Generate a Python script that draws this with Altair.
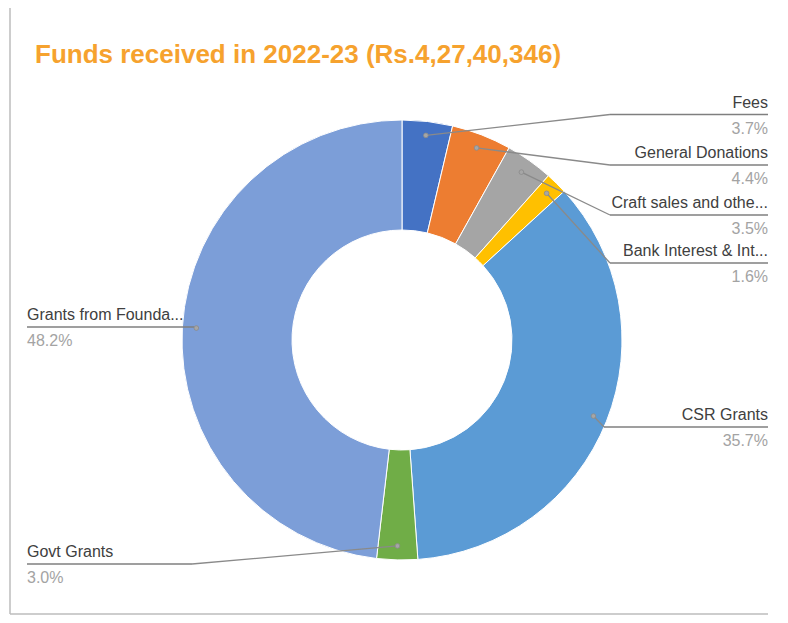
import altair as alt
import numpy as np
import pandas as pd

# ---------------- data ----------------
categories = ["Fees", "General Donations", "Craft sales and othe...",
              "Bank Interest  & Int...", "CSR Grants", "Govt Grants",
              "Grants from Founda..."]
shares = [3.7, 4.4, 3.5, 1.6, 35.7, 3.0, 48.2]
pct_labels = ["3.7%", "4.4%", "3.5%", "1.6%", "35.7%", "3.0%", "48.2%"]
title_text = "Funds received in 2022-23 (Rs.4,27,40,346)"

# ---------------- style / layout ----------------
colors = ["#4472C4", "#ED7D31", "#A5A5A5", "#FFC000", "#5B9BD5", "#70AD47", "#7C9ED8"]
W, H = 772, 607
CX, CY = 394, 332
R_OUT, R_IN, R_DOT = 220, 110, 206
FONT = "Liberation Sans"
label_side = ["right", "right", "right", "right", "right", "left", "left"]
label_line_y = [106.5, 157, 207, 255, 419, 556, 319]
label_join_x = [602, 602, 602, 602, 596, 184, 186]
RIGHT_X, LEFT_X = 760, 19

# ---------------- tables ----------------
df = pd.DataFrame({"category": categories, "share": shares, "order": list(range(len(shares)))})

vals = np.array(shares, dtype=float)
mid = np.cumsum(vals) - vals / 2
ang = mid / vals.sum() * 2 * np.pi
lab = pd.DataFrame({
    "category": categories,
    "pct": pct_labels,
    "side": label_side,
    "dot_x": CX + R_DOT * np.sin(ang),
    "dot_y": CY - R_DOT * np.cos(ang),
    "join_x": label_join_x,
    "line_y": label_line_y,
})
lab["end_x"] = np.where(lab["side"] == "right", RIGHT_X, LEFT_X)
lab["name_y"] = lab["line_y"] - 7
lab["pct_y"] = lab["line_y"] + 19

# ---------------- marks ----------------
arcs = alt.Chart(df).mark_arc(outerRadius=R_OUT, innerRadius=R_IN,
                              stroke="white", strokeWidth=1).encode(
    theta=alt.Theta("share:Q", stack=True),
    order=alt.Order("order:Q"),
    color=alt.Color("category:N", scale=alt.Scale(domain=categories, range=colors), legend=None),
    x=alt.value(CX), y=alt.value(CY),
)

base = alt.Chart(lab)
leaders = base.mark_rule(color="#8a8a8a", strokeWidth=1.3).encode(
    x=alt.X("dot_x:Q", scale=None), y=alt.Y("dot_y:Q", scale=None),
    x2="join_x:Q", y2="line_y:Q")
underlines = base.mark_rule(color="#7f7f7f", strokeWidth=1.6).encode(
    x=alt.X("join_x:Q", scale=None), x2="end_x:Q",
    y=alt.Y("line_y:Q", scale=None))
dots = base.mark_circle(size=22, color="#a6a6a6", opacity=1,
                        stroke="#8a8a8a", strokeWidth=0.8).encode(
    x=alt.X("dot_x:Q", scale=None), y=alt.Y("dot_y:Q", scale=None))

def texts(side, align):
    b = base.transform_filter(alt.datum.side == side)
    names = b.mark_text(align=align, baseline="alphabetic", font=FONT, fontSize=16,
                        color="#404040").encode(
        x=alt.X("end_x:Q", scale=None), y=alt.Y("name_y:Q", scale=None), text="category:N")
    pcts = b.mark_text(align=align, baseline="alphabetic", font=FONT, fontSize=16,
                       color="#a3a3a3").encode(
        x=alt.X("end_x:Q", scale=None), y=alt.Y("pct_y:Q", scale=None), text="pct:N")
    return names + pcts

title = alt.Chart(pd.DataFrame({"t": [title_text]})).mark_text(
    align="left", baseline="alphabetic", font=FONT, fontSize=26, fontWeight="bold",
    color="#F6A22E").encode(x=alt.value(27), y=alt.value(55), text="t:N")

frame_df = pd.DataFrame({"a": [0]})
frame_left = alt.Chart(frame_df).mark_rule(color="#bdbdbd", strokeWidth=1.5).encode(
    x=alt.value(2), y=alt.value(0), y2=alt.value(606))
frame_bottom = alt.Chart(frame_df).mark_rule(color="#bdbdbd", strokeWidth=1.5).encode(
    x=alt.value(2), x2=alt.value(760), y=alt.value(606))

chart = alt.layer(
    frame_left, frame_bottom, arcs, leaders, underlines, dots,
    texts("right", "right"), texts("left", "left"), title
).properties(width=W, height=H, padding=0, autosize="none").configure_view(
    stroke="transparent", strokeWidth=0)

chart.save("out.html", embed_options={"renderer": "svg", "actions": False})
